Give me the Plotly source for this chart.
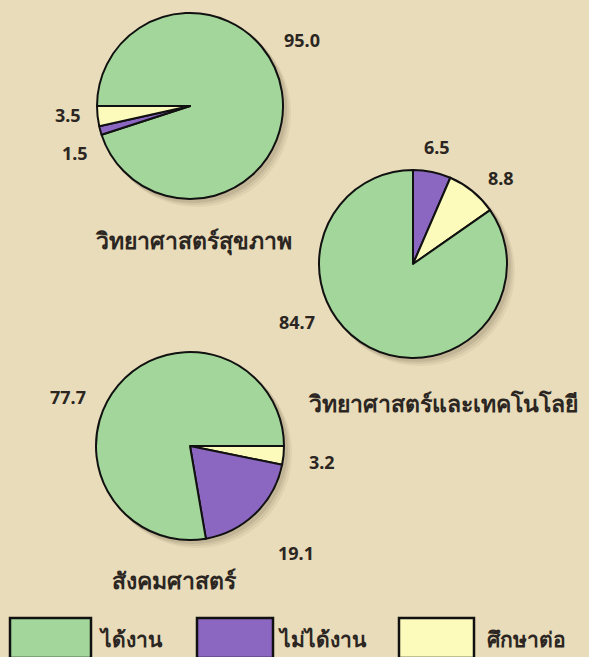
import plotly.graph_objects as go

# ---- data ----
categories = ["ได้งาน", "ไม่ได้งาน", "ศึกษาต่อ"]
colors = ["#a2d69a", "#8c67c1", "#fdfbbc"]
group_names = ["วิทยาศาสตร์สุขภาพ", "วิทยาศาสตร์และเทคโนโลยี", "สังคมศาสตร์"]
health = [95.0, 1.5, 3.5]
scitech = [84.7, 6.5, 8.8]
social = [77.7, 19.1, 3.2]

W, H = 589, 657
BG = "#e9dcba"
FONT = "Noto Sans, DejaVu Sans, sans-serif"

# layout of each pie: center x, center y (px from top), radius, slice order, rotation
pies = [
    dict(vals=health, cx=190, cy=106, r=93, order=[0, 1, 2], rot=270),
    dict(vals=scitech, cx=413, cy=264, r=94, order=[1, 2, 0], rot=0),
    dict(vals=social, cx=190, cy=446, r=94, order=[2, 1, 0], rot=90),
]

def dom(cx, cy, r):
    return dict(x=[(cx - r) / W, (cx + r) / W], y=[1 - (cy + r) / H, 1 - (cy - r) / H])

fig = go.Figure()

# soft drop shadows
for p in pies:
    for off, a in [(7, 0.06), (5, 0.08), (3, 0.10)]:
        fig.add_trace(go.Pie(
            values=[1], labels=["s"], domain=dom(p["cx"] + off, p["cy"] + off, p["r"] + 1),
            marker=dict(colors=[f"rgba(70,55,30,{a})"], line=dict(width=0)),
            textinfo="none", hoverinfo="skip", showlegend=False, sort=False,
        ))

for p in pies:
    fig.add_trace(go.Pie(
        values=[p["vals"][i] for i in p["order"]],
        labels=[categories[i] for i in p["order"]],
        marker=dict(colors=[colors[i] for i in p["order"]], line=dict(color="#111111", width=2)),
        domain=dom(p["cx"], p["cy"], p["r"]),
        sort=False, rotation=p["rot"], direction="clockwise",
        textinfo="none", hoverinfo="label+value", showlegend=False,
    ))

ann = []
def txt(x, y, s, size=18, weight="bold"):
    ann.append(dict(x=x / W, y=1 - y / H, xref="paper", yref="paper", text=s, showarrow=False,
                    xanchor="center", yanchor="middle",
                    font=dict(family=FONT, size=size, color="#2b2622", weight=weight)))

# value labels
txt(302, 40, f"{health[0]:.1f}")
txt(68, 115, f"{health[2]:.1f}")
txt(75, 153, f"{health[1]:.1f}")
txt(437, 147, f"{scitech[1]:.1f}")
txt(501, 178, f"{scitech[2]:.1f}")
txt(297, 322, f"{scitech[0]:.1f}")
txt(68, 397, f"{social[0]:.1f}")
txt(322, 462, f"{social[2]:.1f}")
txt(296, 553, f"{social[1]:.1f}")

# group titles
txt(193, 240, group_names[0], size=23)
txt(443, 403, group_names[1], size=23)
txt(175, 580, group_names[2], size=23)

# legend drawn manually
shapes = []
legend_boxes = [(10, 91, 97), (197, 273, 276), (399, 474, 485)]
for i, (x0, x1, tx) in enumerate(legend_boxes):
    shapes.append(dict(type="rect", xref="paper", yref="paper",
                       x0=x0 / W, x1=x1 / W, y0=1 - 658 / H, y1=1 - 618 / H,
                       fillcolor=colors[i], line=dict(color="#111111", width=2.5)))
    ann.append(dict(x=tx / W, y=1 - 639 / H, xref="paper", yref="paper", text=categories[i],
                    showarrow=False, xanchor="left", yanchor="middle",
                    font=dict(family=FONT, size=21, color="#2b2622", weight="bold")))

fig.update_layout(
    width=W, height=H, margin=dict(l=0, r=0, t=0, b=0),
    paper_bgcolor=BG, plot_bgcolor=BG,
    annotations=ann, shapes=shapes, showlegend=False,
)

fig.write_html("out.html", config={"displayModeBar": False},
               post_script="document.body.style.margin='0';document.body.style.overflow='hidden';")
